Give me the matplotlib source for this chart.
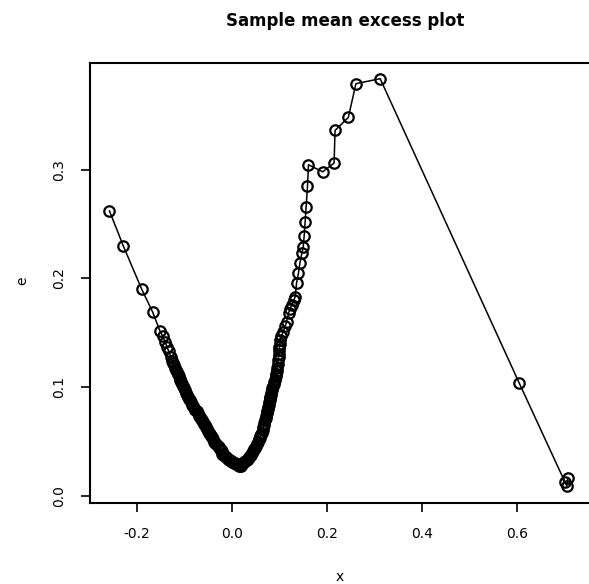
import matplotlib
matplotlib.use('Agg')
import matplotlib.pyplot as plt

# thresholds (x) and sample mean excess (e)
threshold = [
    -0.258, -0.229, -0.190, -0.167, -0.152, -0.146, -0.141, -0.137, -0.133, -0.129,
    -0.126, -0.124, -0.122, -0.120, -0.118, -0.116, -0.114, -0.112, -0.110, -0.109,
    -0.107, -0.105, -0.103, -0.101, -0.099, -0.097, -0.095, -0.092, -0.090, -0.088,
    -0.086, -0.084, -0.082, -0.079, -0.077, -0.074, -0.072, -0.070, -0.068, -0.066,
    -0.063, -0.061, -0.059, -0.057, -0.055, -0.053, -0.050, -0.048, -0.046, -0.044,
    -0.042, -0.039, -0.037, -0.035, -0.033, -0.030, -0.028, -0.026, -0.024, -0.022,
    -0.020, -0.018, -0.015, -0.013, -0.011, -0.009, -0.006, -0.004, -0.002, 0.000,
    0.002, 0.004, 0.007, 0.009, 0.011, 0.013, 0.015, 0.017, 0.019, 0.022,
    0.024, 0.026, 0.028, 0.031, 0.033, 0.035, 0.037, 0.040, 0.042, 0.044,
    0.046, 0.048, 0.050, 0.052, 0.054, 0.056, 0.058, 0.060, 0.062, 0.063,
    0.065, 0.066, 0.067, 0.068, 0.070, 0.071, 0.072, 0.073, 0.074, 0.075,
    0.076, 0.077, 0.078, 0.079, 0.080, 0.081, 0.082, 0.083, 0.084, 0.085,
    0.087, 0.088, 0.089, 0.091, 0.092, 0.093, 0.094, 0.095, 0.096, 0.097,
    0.098, 0.099, 0.100, 0.100, 0.101, 0.101,
    0.104, 0.108, 0.112, 0.115, 0.119, 0.122, 0.126, 0.130, 0.133, 0.136,
    0.140, 0.143, 0.147, 0.150, 0.152, 0.154, 0.156, 0.159, 0.161, 0.191,
    0.215, 0.217, 0.245, 0.261, 0.312, 0.605, 0.701, 0.705, 0.707,
]
mean_excess = [
    0.262, 0.230, 0.190, 0.169, 0.152, 0.147, 0.142, 0.137, 0.133, 0.128,
    0.124, 0.122, 0.120, 0.118, 0.116, 0.114, 0.112, 0.110, 0.108, 0.107,
    0.105, 0.103, 0.101, 0.099, 0.097, 0.095, 0.093, 0.091, 0.089, 0.088,
    0.086, 0.084, 0.083, 0.081, 0.079, 0.078, 0.076, 0.074, 0.073, 0.071,
    0.070, 0.068, 0.066, 0.065, 0.063, 0.062, 0.060, 0.058, 0.057, 0.055,
    0.054, 0.052, 0.050, 0.049, 0.048, 0.046, 0.045, 0.043, 0.042, 0.041,
    0.039, 0.038, 0.037, 0.036, 0.035, 0.034, 0.033, 0.033, 0.032, 0.031,
    0.031, 0.030, 0.030, 0.029, 0.029, 0.0285, 0.028, 0.028, 0.028, 0.029,
    0.030, 0.031, 0.032, 0.033, 0.034, 0.036, 0.037, 0.038, 0.040, 0.041,
    0.043, 0.044, 0.046, 0.048, 0.050, 0.052, 0.053, 0.055, 0.057, 0.058,
    0.061, 0.063, 0.065, 0.067, 0.070, 0.072, 0.074, 0.076, 0.078, 0.080,
    0.082, 0.084, 0.086, 0.088, 0.090, 0.091, 0.093, 0.095, 0.097, 0.099,
    0.101, 0.103, 0.105, 0.107, 0.110, 0.112, 0.115, 0.118, 0.121, 0.125,
    0.128, 0.131, 0.134, 0.137, 0.140, 0.1435,
    0.147, 0.151, 0.156, 0.160, 0.168, 0.172, 0.176, 0.180, 0.183, 0.196,
    0.205, 0.214, 0.223, 0.229, 0.239, 0.252, 0.266, 0.2846, 0.3045, 0.298,
    0.306, 0.336, 0.348, 0.379, 0.3836, 0.1037, 0.013, 0.0092, 0.0166,
]
x_ticks = [-0.2, 0.0, 0.2, 0.4, 0.6]
y_ticks = [0.0, 0.1, 0.2, 0.3]

plt.rcParams['font.family'] = ['DejaVu Sans']

def main():
    fig = plt.figure(figsize=(5.89, 5.84), dpi=100)
    ax = fig.add_axes([90 / 589, 1 - 503 / 584, 501 / 589, 440 / 584])

    ax.plot(threshold, mean_excess, color='black', linewidth=1.1,
            marker='o', markersize=7.5, markerfacecolor='none',
            markeredgecolor='black', markeredgewidth=1.6)

    ax.set_xlim(-0.299, 0.756)
    ax.set_ylim(-0.0064, 0.398)
    ax.set_xticks(x_ticks)
    ax.set_xticklabels(['{:.1f}'.format(t) for t in x_ticks])
    ax.set_yticks(y_ticks)
    ax.set_yticklabels(['{:.1f}'.format(t) for t in y_ticks])
    plt.setp(ax.get_yticklabels(), rotation=90, va='center')

    ax.tick_params(direction='out', length=6.5, width=1.2, labelsize=10, pad=11)
    for s in ax.spines.values():
        s.set_linewidth(1.5)

    fig.text(345 / 589, 1 - 21 / 584, 'Sample mean excess plot',
             ha='center', va='center', fontsize=12, fontweight='bold')
    fig.text(340 / 589, 1 - 577 / 584, 'x', ha='center', va='center', fontsize=10)
    fig.text(22 / 589, 1 - 281 / 584, 'e', ha='center', va='center',
             fontsize=10, rotation=90)

    fig.savefig('out.png', dpi=100)

if __name__ == '__main__':
    main()
